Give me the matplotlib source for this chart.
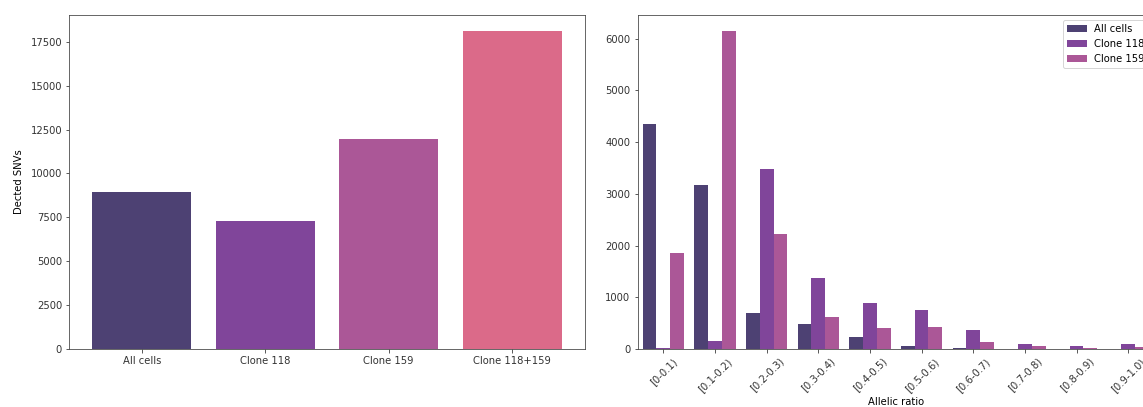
import matplotlib
matplotlib.use("Agg")
import matplotlib.pyplot as plt
import numpy as np

# detected SNVs per group
groups = ["All cells", "Clone 118", "Clone 159", "Clone 118+159"]
snv_counts = [8970, 7280, 11950, 18120]

# allelic ratio distribution per group
ratio_bins = ["[0-0.1)", "[0.1-0.2)", "[0.2-0.3)", "[0.3-0.4)", "[0.4-0.5)",
              "[0.5-0.6)", "[0.6-0.7)", "[0.7-0.8)", "[0.8-0.9)", "[0.9-1.0)"]
all_cells = [4350, 3170, 690, 476, 238, 64, 20, 0, 0, 0]
clone_118 = [15, 154, 3480, 1365, 890, 753, 359, 102, 64, 102]
clone_159 = [1860, 6150, 2214, 618, 412, 417, 141, 64, 25, 45]

colors = ["#4d4173", "#80459a", "#ab5797", "#db6a89"]

plt.rcParams["font.size"] = 10
fig = plt.figure(figsize=(1143 / 72, 407 / 72), dpi=72)

ax1 = fig.add_axes([69 / 1143, 58 / 407, 516 / 1143, 334 / 407])
ax1.bar(range(len(groups)), snv_counts, width=0.8, color=colors)
ax1.set_xticks(range(len(groups)))
ax1.set_xticklabels(groups)
ax1.set_ylabel("Dected SNVs", labelpad=6)

ax2 = fig.add_axes([637.5 / 1143, 58 / 407, 516.5 / 1143, 334 / 407])
x = np.arange(len(ratio_bins))
w = 0.8 / 3
series = [("All cells", all_cells), ("Clone 118", clone_118), ("Clone 159", clone_159)]
for i, (name, vals) in enumerate(series):
    ax2.bar(x + (i - 1) * w, vals, width=w, color=colors[i], label=name)
ax2.set_xlim(-0.5, len(ratio_bins) - 0.5)
ax2.set_xticks(x)
ax2.set_xticklabels(ratio_bins, rotation=45)
ax2.set_xlabel("Allelic ratio", labelpad=3)
ax2.legend(loc="upper right")

for ax in (ax1, ax2):
    for s in ax.spines.values():
        s.set_color("#444444")
    ax.tick_params(colors="#333333")

fig.savefig("out.png", dpi=72)
